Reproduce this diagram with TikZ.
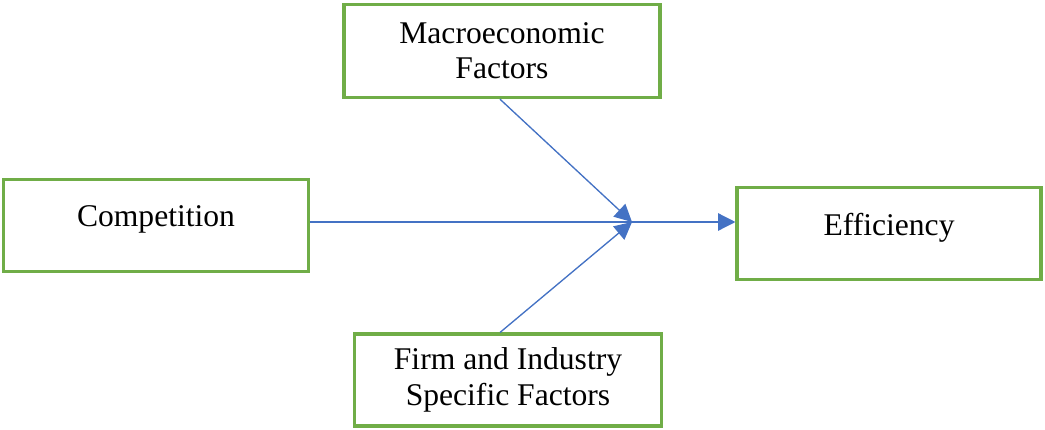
\documentclass[tikz,border=0pt]{standalone}
\usepackage{fontspec}
\setmainfont{Liberation Serif}
\usepackage{tikz}
\usetikzlibrary{arrows.meta,calc,positioning}
\definecolor{boxgreen}{HTML}{70AD47}
\definecolor{arrowblue}{HTML}{4472C4}
\tikzset{
  factor/.style={draw=boxgreen,line width=2.3pt,fill=white,align=center,
                 inner sep=0pt,font=\fontsize{23.7}{26.5}\selectfont},
  link/.style={-{Triangle[length=13pt,width=13pt]},draw=arrowblue,fill=arrowblue,line width=1pt}
}
\begin{document}
\begin{tikzpicture}[x=0.75pt,y=-0.75pt]
  \useasboundingbox (0,0) rectangle (1045,429);
  \node[factor,minimum width=237pt,minimum height=70pt] (macro) at (502,51) {Macroeconomic\\Factors};
  \node[factor,minimum width=229pt,minimum height=69.5pt,text depth=14pt] (comp) at (156,225.5) {Competition};
  \node[factor,minimum width=228pt,minimum height=69.5pt,text depth=14pt] (eff) at (889,233.5) {Efficiency};
  \node[factor,minimum width=230pt,minimum height=69pt] (firm) at (508,380) {Firm and Industry\\Specific Factors};
  \coordinate (meet) at (632,222);
  % converging arrows
  \draw[link] (comp.east|-meet) -- (eff.west|-meet);
  \draw[link] ([xshift=-1.5pt]macro.south) -- (meet);
  \draw[link] ([xshift=-6pt]firm.north) -- (meet);
\end{tikzpicture}
\end{document}
